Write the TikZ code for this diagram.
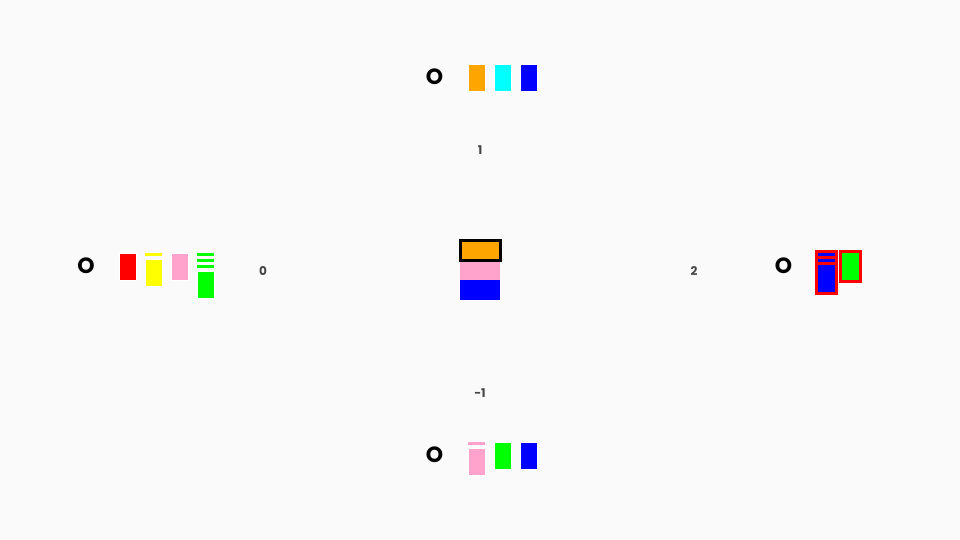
\documentclass[tikz,border=0pt]{standalone}
\usepackage{fontspec}
\setmainfont{Poppins}
\usepackage{tikz}
\usetikzlibrary{positioning}
\usepackage{xcolor}

\definecolor{bgcol}{HTML}{FAFAFA}
\definecolor{orangecol}{HTML}{FFA500}
\definecolor{cyancol}{HTML}{00FFFF}
\definecolor{bluecol}{HTML}{0000FF}
\definecolor{redcol}{HTML}{FF0000}
\definecolor{yellowcol}{HTML}{FFFF00}
\definecolor{pinkcol}{HTML}{FFA3CC}
\definecolor{greencol}{HTML}{00FF00}
\definecolor{labelcol}{HTML}{454545}

\begin{document}
\begin{tikzpicture}[x=1pt, y=-1pt,
    bar/.style = {rectangle, fill=#1, draw=white, line width=0.6pt, inner sep=0pt, outer sep=0pt, minimum width=17pt, minimum height=27pt},
    stripe/.style = {rectangle, fill=#1, inner sep=0pt, outer sep=0pt, minimum width=17pt, minimum height=3.2pt},
    cell/.style = {rectangle, fill=#1, inner sep=0pt, outer sep=0pt, minimum width=40pt, minimum height=20pt},
    redframe/.style = {rectangle, fill=redcol, draw=redcol, line width=3pt, inner sep=0pt, outer sep=0pt, minimum width=20pt},
    bigo/.style = {font=\fontsize{22}{26}\selectfont\bfseries, text=black, inner sep=0pt},
    axislabel/.style = {font=\fontsize{12}{14}\selectfont\bfseries, text=labelcol, inner sep=0pt}
]

% Canvas
\fill[bgcol] (0,0) rectangle (960,540);

% Top group
\node (top_o) [bigo] at (434.5,77) {O};
\node (top_orange) [bar=orangecol] at (476.5,77.5) {};
\node (top_cyan) [bar=cyancol, right=9pt of top_orange] {};
\node (top_blue) [bar=bluecol, right=9pt of top_cyan] {};

% Left group
\node (left_o) [bigo] at (86,266) {O};
\node (left_red) [bar=redcol] at (127.5,266.5) {};
\node (left_ystripe) [stripe=yellowcol, right=9pt of left_red.north east, anchor=north west] {};
\node (left_yellow) [bar=yellowcol, below=2.8pt of left_ystripe] {};
\node (left_pink) [bar=pinkcol, right=9pt of left_yellow.north east, anchor=north west, yshift=6pt] {};
\node (left_gstripe1) [stripe=greencol, right=9pt of left_pink.north east, anchor=north west] {};
\node (left_gstripe2) [stripe=greencol, below=2.8pt of left_gstripe1] {};
\node (left_gstripe3) [stripe=greencol, below=2.8pt of left_gstripe2] {};
\node (left_green) [bar=greencol, below=2.8pt of left_gstripe3] {};

% Centre stack
\node (mid_pink) [cell=pinkcol] at (480,270) {};
\node (mid_blue) [cell=bluecol, below=0pt of mid_pink] {};
\node (mid_orange) [cell=orangecol, draw=black, line width=3pt, above=0pt of mid_pink] {};

% Right group
\node (right_o) [bigo] at (783.5,266) {O};
\node (right_frame) [redframe, minimum height=42pt] at (826,272.5) {};
\node (right_bstripe1) [stripe=bluecol, below=1.5pt of right_frame.north] {};
\node (right_bstripe2) [stripe=bluecol, below=2.8pt of right_bstripe1] {};
\node (right_blue) [bar=bluecol, draw=none, below=2.8pt of right_bstripe2] {};
\node (right_green) [redframe, fill=greencol, minimum height=30pt, right=4pt of right_frame.north east, anchor=north west] {};

% Bottom group
\node (bot_o) [bigo] at (434.5,455) {O};
\node (bot_pstripe) [stripe=pinkcol] at (476.5,443.5) {};
\node (bot_pink) [bar=pinkcol, below=2.8pt of bot_pstripe] {};
\node (bot_green) [bar=greencol] at (502.5,455.5) {};
\node (bot_blue) [bar=bluecol, right=9pt of bot_green] {};

% Axis labels
\node (lbl_top) [axislabel] at (480,150) {1};
\node (lbl_left) [axislabel] at (263,271) {0};
\node (lbl_right) [axislabel] at (694,271) {2};
\node (lbl_bottom) [axislabel] at (480,393) {-1};

\end{tikzpicture}
\end{document}
